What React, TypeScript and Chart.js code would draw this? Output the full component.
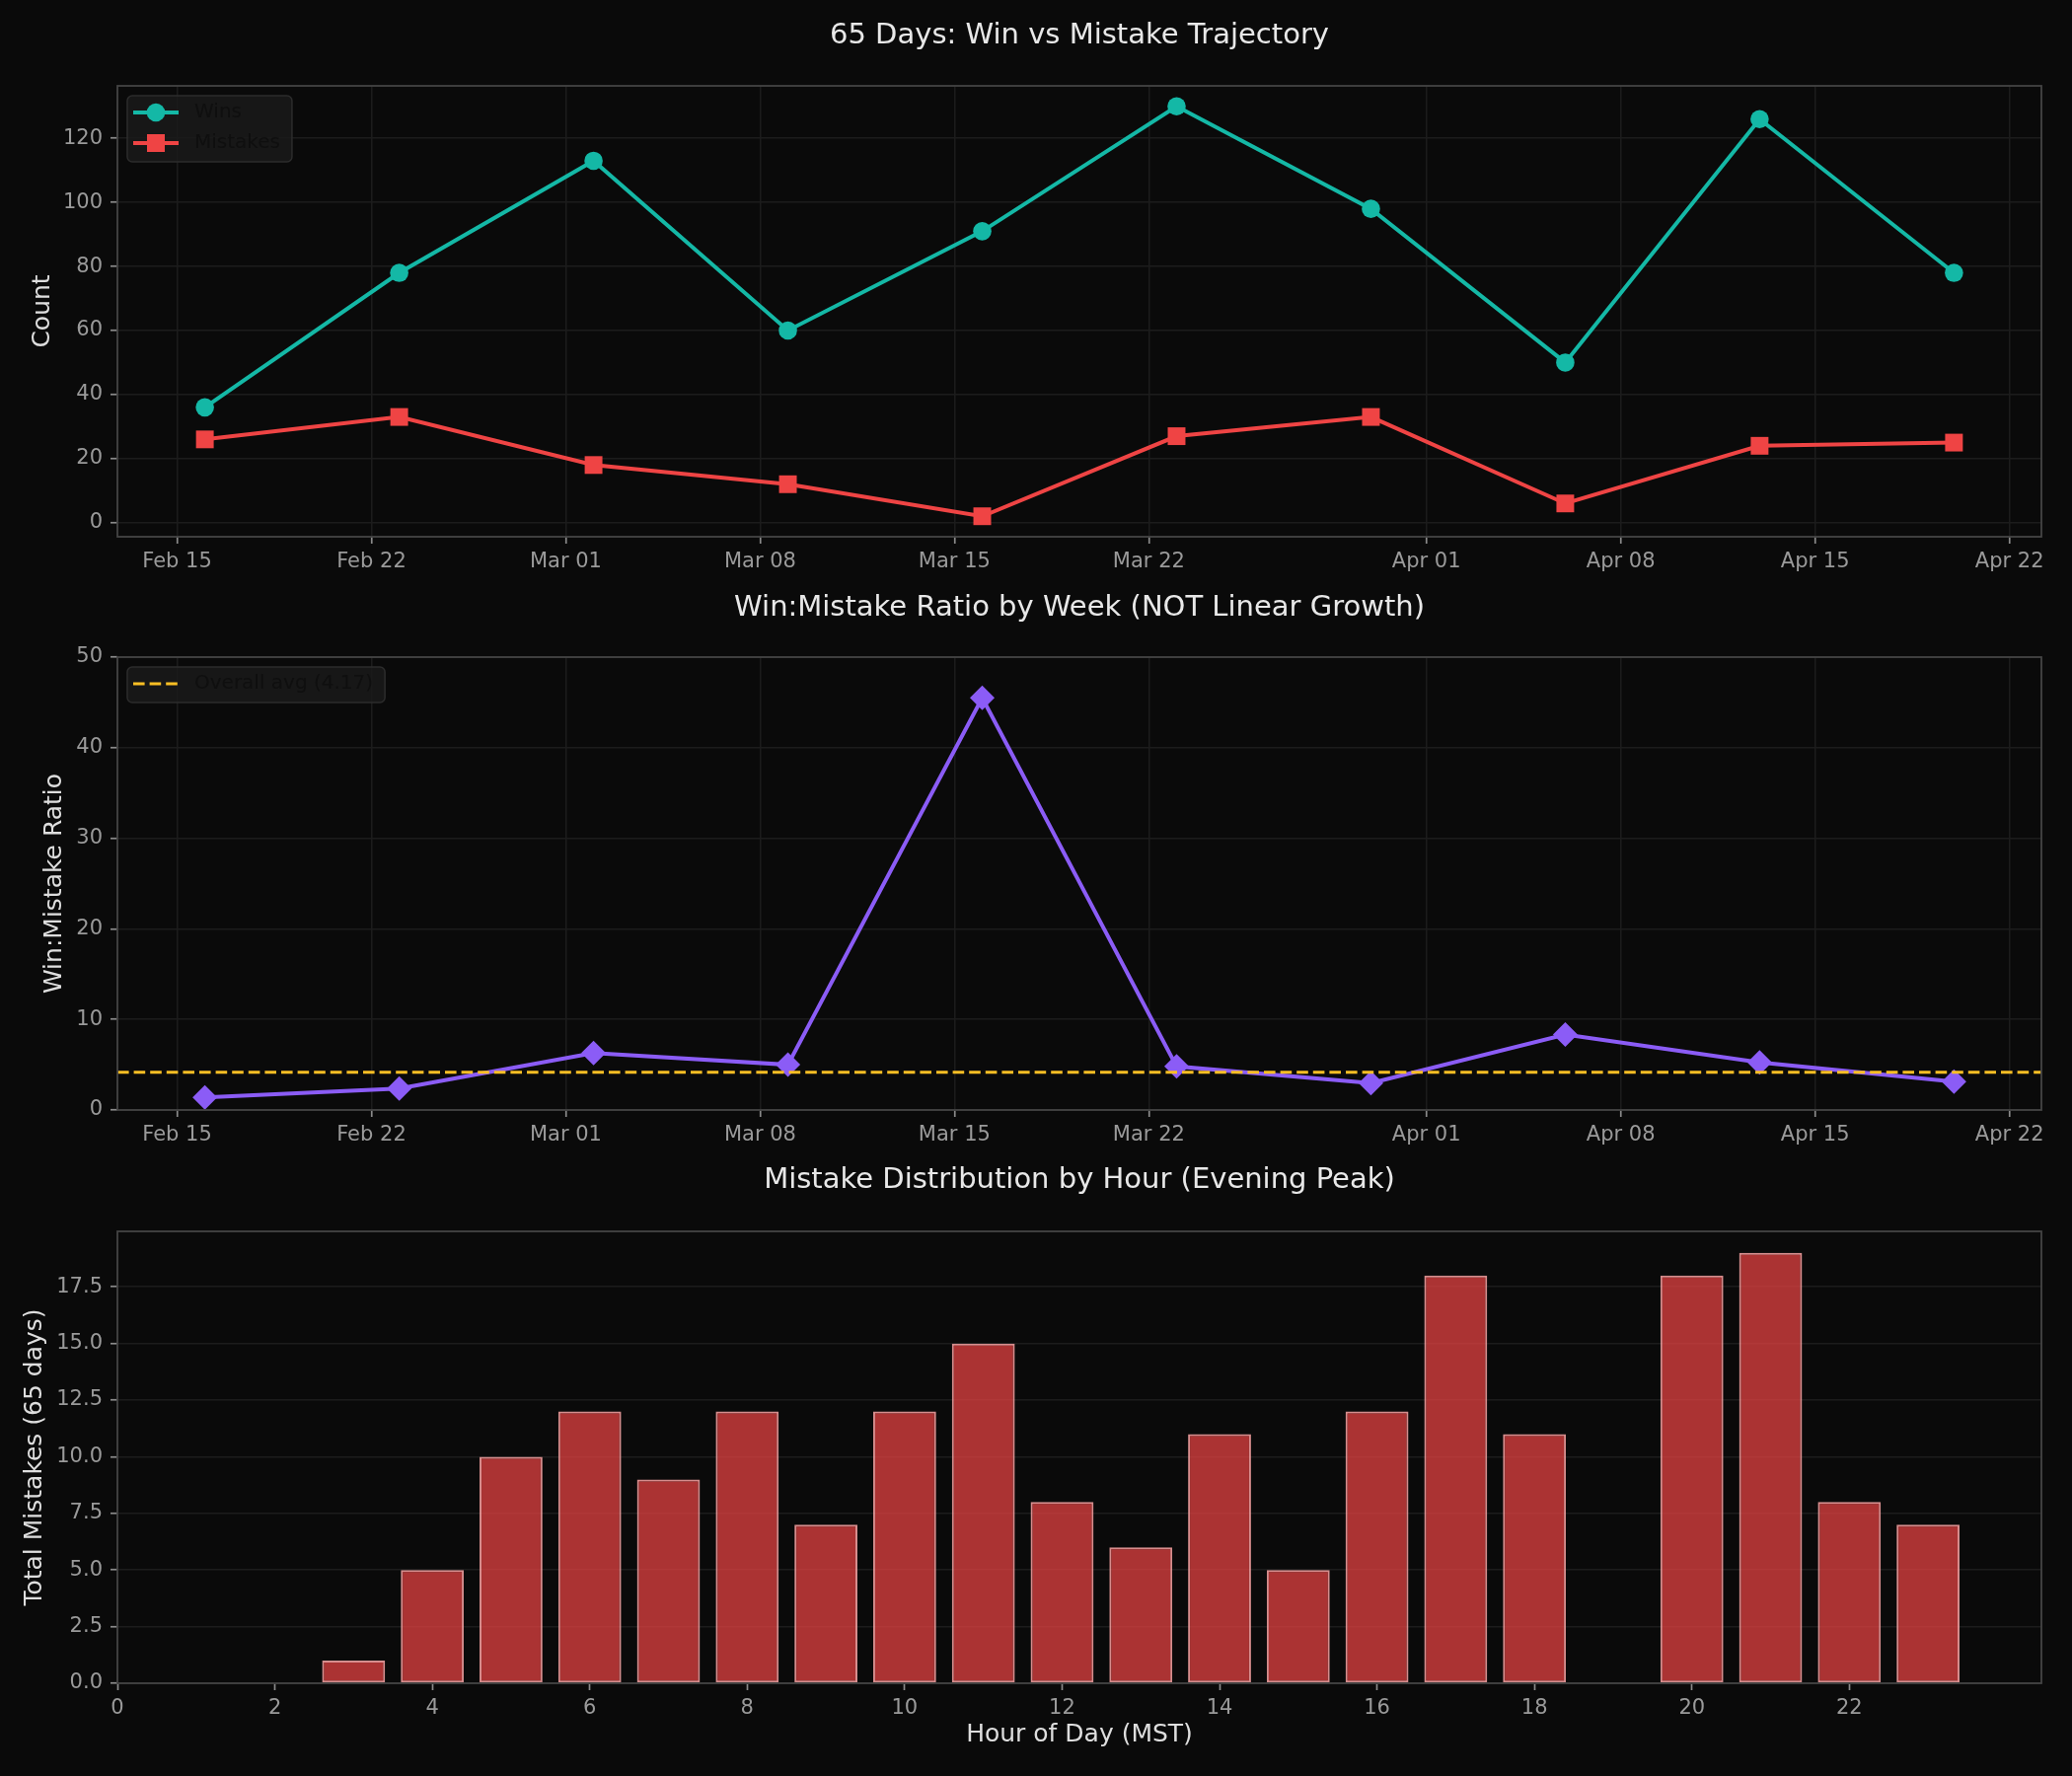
import React, { useEffect, useRef } from "react";
import { Chart, registerables } from "chart.js";
Chart.register(...registerables);

// ---------------- data ----------------
const weekDates = ["2025-02-16", "2025-02-23", "2025-03-02", "2025-03-09", "2025-03-16", "2025-03-23", "2025-03-30", "2025-04-06", "2025-04-13", "2025-04-20"];
const winsPerWeek = [36, 78, 113, 60, 91, 130, 98, 50, 126, 78];
const mistakesPerWeek = [26, 33, 18, 12, 2, 27, 33, 6, 24, 25];
const ratioPerWeek = [1.38, 2.36, 6.28, 5.0, 45.5, 4.81, 2.97, 8.33, 5.25, 3.12];
const overallAvgRatio = 4.17;
const overallAvgLabel = "Overall avg (4.17)";

const dateTickDates = ["2025-02-15", "2025-02-22", "2025-03-01", "2025-03-08", "2025-03-15", "2025-03-22", "2025-04-01", "2025-04-08", "2025-04-15", "2025-04-22"];
const dateTickLabels = ["Feb 15", "Feb 22", "Mar 01", "Mar 08", "Mar 15", "Mar 22", "Apr 01", "Apr 08", "Apr 15", "Apr 22"];

const hoursOfDay = [0, 1, 2, 3, 4, 5, 6, 7, 8, 9, 10, 11, 12, 13, 14, 15, 16, 17, 18, 19, 20, 21, 22, 23];
const mistakesByHour = [0, 0, 0, 1, 5, 10, 12, 9, 12, 7, 12, 15, 8, 6, 11, 5, 12, 18, 11, 0, 18, 19, 8, 7];

const countTicks = [0, 20, 40, 60, 80, 100, 120];
const ratioTicks = [0, 10, 20, 30, 40, 50];
const hourYTicks = [0, 2.5, 5, 7.5, 10, 12.5, 15, 17.5];
const hourXTicks = [0, 2, 4, 6, 8, 10, 12, 14, 16, 18, 20, 22];

// ---------------- style ----------------
const FONT = "'DejaVu Sans', 'Liberation Sans', sans-serif";
const BG = "#0a0a0a";
const GRID = "#1c1c1c";
const TICK_TEXT = "#9a9a9a";
const TICK_MARK = "#8a8a8a";
const LABEL = "#dedede";
const TITLE = "#e8e8e8";
const SPINE = "#444444";
const TEAL = "#14b8a6";
const RED = "#ef4444";
const PURPLE = "#8b5cf6";
const AMBER = "#fbbf24";

const EPOCH = Date.UTC(2025, 1, 15);
const dayNum = (s: string) => (Date.parse(s + "T00:00:00Z") - EPOCH) / 86400000;

const weekX = weekDates.map(dayNum);
const xSpan = weekX[weekX.length - 1] - weekX[0];
const X_MIN = weekX[0] - 0.05 * xSpan;
const X_MAX = weekX[weekX.length - 1] + 0.05 * xSpan;

const tickFont = { family: FONT, size: 21 };
const axisTitleFont = { family: FONT, size: 25 };

type LegendItem = { label: string; color: string; kind: "circle" | "square" | "dash" };

function decorPlugin(cfg: { title: string; titleY: number; legend?: LegendItem[]; avgLine?: number }) {
  return {
    id: "decor",
    beforeDraw(chart: any) {
      const { ctx, width, height } = chart;
      ctx.save();
      ctx.fillStyle = BG;
      ctx.fillRect(0, 0, width, height);
      ctx.restore();
    },
    afterDatasetsDraw(chart: any) {
      if (cfg.avgLine === undefined) return;
      const { ctx, chartArea } = chart;
      const y = chart.scales.y.getPixelForValue(cfg.avgLine);
      ctx.save();
      ctx.strokeStyle = AMBER;
      ctx.lineWidth = 3;
      ctx.setLineDash([11.6, 5]);
      ctx.beginPath();
      ctx.moveTo(chartArea.left, y);
      ctx.lineTo(chartArea.right, y);
      ctx.stroke();
      ctx.restore();
    },
    afterDraw(chart: any) {
      const { ctx, chartArea } = chart;
      ctx.save();
      // spines
      ctx.strokeStyle = SPINE;
      ctx.lineWidth = 1.8;
      ctx.strokeRect(chartArea.left, chartArea.top, chartArea.right - chartArea.left, chartArea.bottom - chartArea.top);
      // title
      ctx.fillStyle = TITLE;
      ctx.font = `29px ${FONT}`;
      ctx.textAlign = "center";
      ctx.textBaseline = "middle";
      ctx.fillText(cfg.title, (chartArea.left + chartArea.right) / 2, cfg.titleY);
      // legend
      if (cfg.legend) {
        ctx.font = `20px ${FONT}`;
        const bx = chartArea.left + 10;
        const by = chartArea.top + 10;
        const textX = bx + 68;
        let maxW = 0;
        cfg.legend.forEach((it) => (maxW = Math.max(maxW, ctx.measureText(it.label).width)));
        const bw = textX - bx + maxW + 12;
        const bh = 5 + 31 * cfg.legend.length;
        ctx.beginPath();
        const r = 5;
        ctx.moveTo(bx + r, by);
        ctx.arcTo(bx + bw, by, bx + bw, by + bh, r);
        ctx.arcTo(bx + bw, by + bh, bx, by + bh, r);
        ctx.arcTo(bx, by + bh, bx, by, r);
        ctx.arcTo(bx, by, bx + bw, by, r);
        ctx.closePath();
        ctx.fillStyle = "rgba(26,26,26,0.85)";
        ctx.fill();
        ctx.strokeStyle = "#2c2c2c";
        ctx.lineWidth = 1.5;
        ctx.stroke();
        cfg.legend.forEach((it, i) => {
          const cy = by + 17 + i * 31;
          ctx.strokeStyle = it.color;
          ctx.fillStyle = it.color;
          if (it.kind === "dash") {
            ctx.lineWidth = 3;
            ctx.setLineDash([11.6, 5]);
          } else {
            ctx.lineWidth = 4;
            ctx.setLineDash([]);
          }
          ctx.beginPath();
          ctx.moveTo(bx + 6, cy);
          ctx.lineTo(bx + 52, cy);
          ctx.stroke();
          ctx.setLineDash([]);
          const mx = bx + 29;
          if (it.kind === "circle") {
            ctx.beginPath();
            ctx.arc(mx, cy, 9.3, 0, Math.PI * 2);
            ctx.fill();
          } else if (it.kind === "square") {
            ctx.fillRect(mx - 9, cy - 9, 18, 18);
          }
          ctx.fillStyle = "#0f0f0f";
          ctx.textAlign = "left";
          ctx.textBaseline = "middle";
          ctx.fillText(it.label, textX, cy);
        });
      }
      ctx.restore();
    },
  };
}

function dateXAxis(axisH: number) {
  return {
    type: "linear",
    min: X_MIN,
    max: X_MAX,
    afterBuildTicks: (s: any) => {
      s.ticks = dateTickDates.map((d) => ({ value: dayNum(d) }));
    },
    afterFit: (s: any) => {
      s.height = axisH;
    },
    ticks: {
      autoSkip: false,
      maxRotation: 0,
      minRotation: 0,
      color: TICK_TEXT,
      font: tickFont,
      padding: 6,
      callback: (_v: any, i: number) => dateTickLabels[i],
    },
    grid: { color: GRID, lineWidth: 1.5, tickColor: TICK_MARK, tickLength: 7, tickWidth: 1.7 },
    border: { display: false },
  };
}

function yAxis(min: number, max: number, ticks: number[], title: string, titlePad: number, fmt?: (v: number) => string) {
  return {
    type: "linear",
    min,
    max,
    afterBuildTicks: (s: any) => {
      s.ticks = ticks.map((v) => ({ value: v }));
    },
    afterFit: (s: any) => {
      s.width = 119;
    },
    ticks: {
      color: TICK_TEXT,
      font: tickFont,
      padding: 8,
      callback: (v: any) => (fmt ? fmt(Number(v)) : String(v)),
    },
    grid: { color: GRID, lineWidth: 1.5, tickColor: TICK_MARK, tickLength: 7, tickWidth: 1.7 },
    border: { display: false },
    title: { display: true, text: title, color: LABEL, font: axisTitleFont, padding: { top: titlePad, bottom: 0 } },
  };
}

const baseOptions = (plotTop: number) => ({
  responsive: false,
  animation: false,
  devicePixelRatio: 1,
  events: [],
  layout: { padding: { top: plotTop, left: 0, right: 31, bottom: 0 } },
});

function buildTrajectory(h: number): any {
  const plotTop = 87;
  const plotBottom = 544;
  return {
    type: "line",
    data: {
      datasets: [
        {
          label: "Wins",
          data: weekX.map((x, i) => ({ x, y: winsPerWeek[i] })),
          borderColor: TEAL,
          backgroundColor: TEAL,
          borderWidth: 4,
          pointStyle: "circle",
          pointRadius: 9.3,
          pointBorderWidth: 0,
          tension: 0,
        },
        {
          label: "Mistakes",
          data: weekX.map((x, i) => ({ x, y: mistakesPerWeek[i] })),
          borderColor: RED,
          backgroundColor: RED,
          borderWidth: 4,
          pointStyle: "rect",
          pointRadius: 12.7,
          pointBorderWidth: 0,
          tension: 0,
        },
      ],
    },
    options: {
      ...baseOptions(plotTop),
      plugins: { legend: { display: false }, title: { display: false }, tooltip: { enabled: false } },
      scales: {
        x: dateXAxis(h - plotBottom),
        y: yAxis(-4.4, 136.4, countTicks, "Count", 28),
      },
    },
    plugins: [
      decorPlugin({
        title: "65 Days: Win vs Mistake Trajectory",
        titleY: 36,
        legend: [
          { label: "Wins", color: TEAL, kind: "circle" },
          { label: "Mistakes", color: RED, kind: "square" },
        ],
      }),
    ],
  };
}

function buildRatio(h: number): any {
  const plotTop = 76;
  const plotBottom = 535;
  return {
    type: "line",
    data: {
      datasets: [
        {
          label: "Win:Mistake Ratio",
          data: weekX.map((x, i) => ({ x, y: ratioPerWeek[i] })),
          borderColor: PURPLE,
          backgroundColor: PURPLE,
          borderWidth: 4,
          pointStyle: "rectRot",
          pointRadius: 12.5,
          pointBorderWidth: 0,
          tension: 0,
        },
      ],
    },
    options: {
      ...baseOptions(plotTop),
      plugins: { legend: { display: false }, title: { display: false }, tooltip: { enabled: false } },
      scales: {
        x: dateXAxis(h - plotBottom),
        y: yAxis(0, 50, ratioTicks, "Win:Mistake Ratio", 40),
      },
    },
    plugins: [
      decorPlugin({
        title: "Win:Mistake Ratio by Week (NOT Linear Growth)",
        titleY: 26,
        avgLine: overallAvgRatio,
        legend: [{ label: overallAvgLabel, color: AMBER, kind: "dash" }],
      }),
    ],
  };
}

function buildHourly(h: number): any {
  const plotTop = 78;
  const plotBottom = 536;
  return {
    type: "bar",
    data: {
      datasets: [
        {
          label: "Mistakes",
          data: hoursOfDay.map((x, i) => ({ x, y: mistakesByHour[i] })),
          backgroundColor: "rgba(239,68,68,0.7)",
          borderColor: "rgba(252,165,165,0.85)",
          borderWidth: 2,
          borderSkipped: false,
          barPercentage: 0.8,
          categoryPercentage: 1,
        },
      ],
    },
    options: {
      ...baseOptions(plotTop),
      plugins: { legend: { display: false }, title: { display: false }, tooltip: { enabled: false } },
      scales: {
        x: {
          type: "linear",
          min: 0,
          max: 24.44,
          offset: false,
          afterBuildTicks: (s: any) => {
            s.ticks = hourXTicks.map((v) => ({ value: v }));
          },
          afterFit: (s: any) => {
            s.height = h - plotBottom;
          },
          ticks: { autoSkip: false, maxRotation: 0, color: TICK_TEXT, font: tickFont, padding: 6 },
          grid: { offset: false, drawOnChartArea: false, tickColor: TICK_MARK, tickLength: 7, tickWidth: 1.7 },
          border: { display: false },
          title: { display: true, text: "Hour of Day (MST)", color: LABEL, font: axisTitleFont, padding: { top: 0, bottom: 27 } },
        },
        y: yAxis(0, 19.95, hourYTicks, "Total Mistakes (65 days)", 20, (v) => v.toFixed(1)),
      },
    },
    plugins: [
      decorPlugin({
        title: "Mistake Distribution by Hour (Evening Peak)",
        titleY: 26,
      }),
    ],
  };
}

function ChartCanvas({ top, height, build }: { top: number; height: number; build: (h: number) => any }) {
  const ref = useRef<HTMLCanvasElement>(null);
  useEffect(() => {
    const chart = new Chart(ref.current as HTMLCanvasElement, build(height));
    return () => chart.destroy();
  }, []);
  return (
    <canvas
      ref={ref}
      width={2100}
      height={height}
      style={{ position: "absolute", left: 0, top, width: 2100, height, display: "block" }}
    />
  );
}

export default function App() {
  useEffect(() => {
    document.body.style.margin = "0";
    document.body.style.background = BG;
  }, []);
  return (
    <div style={{ position: "absolute", left: 0, top: 0, width: 2100, height: 1800, background: BG, overflow: "hidden" }}>
      <ChartCanvas top={0} height={590} build={buildTrajectory} />
      <ChartCanvas top={590} height={580} build={buildRatio} />
      <ChartCanvas top={1170} height={630} build={buildHourly} />
    </div>
  );
}
